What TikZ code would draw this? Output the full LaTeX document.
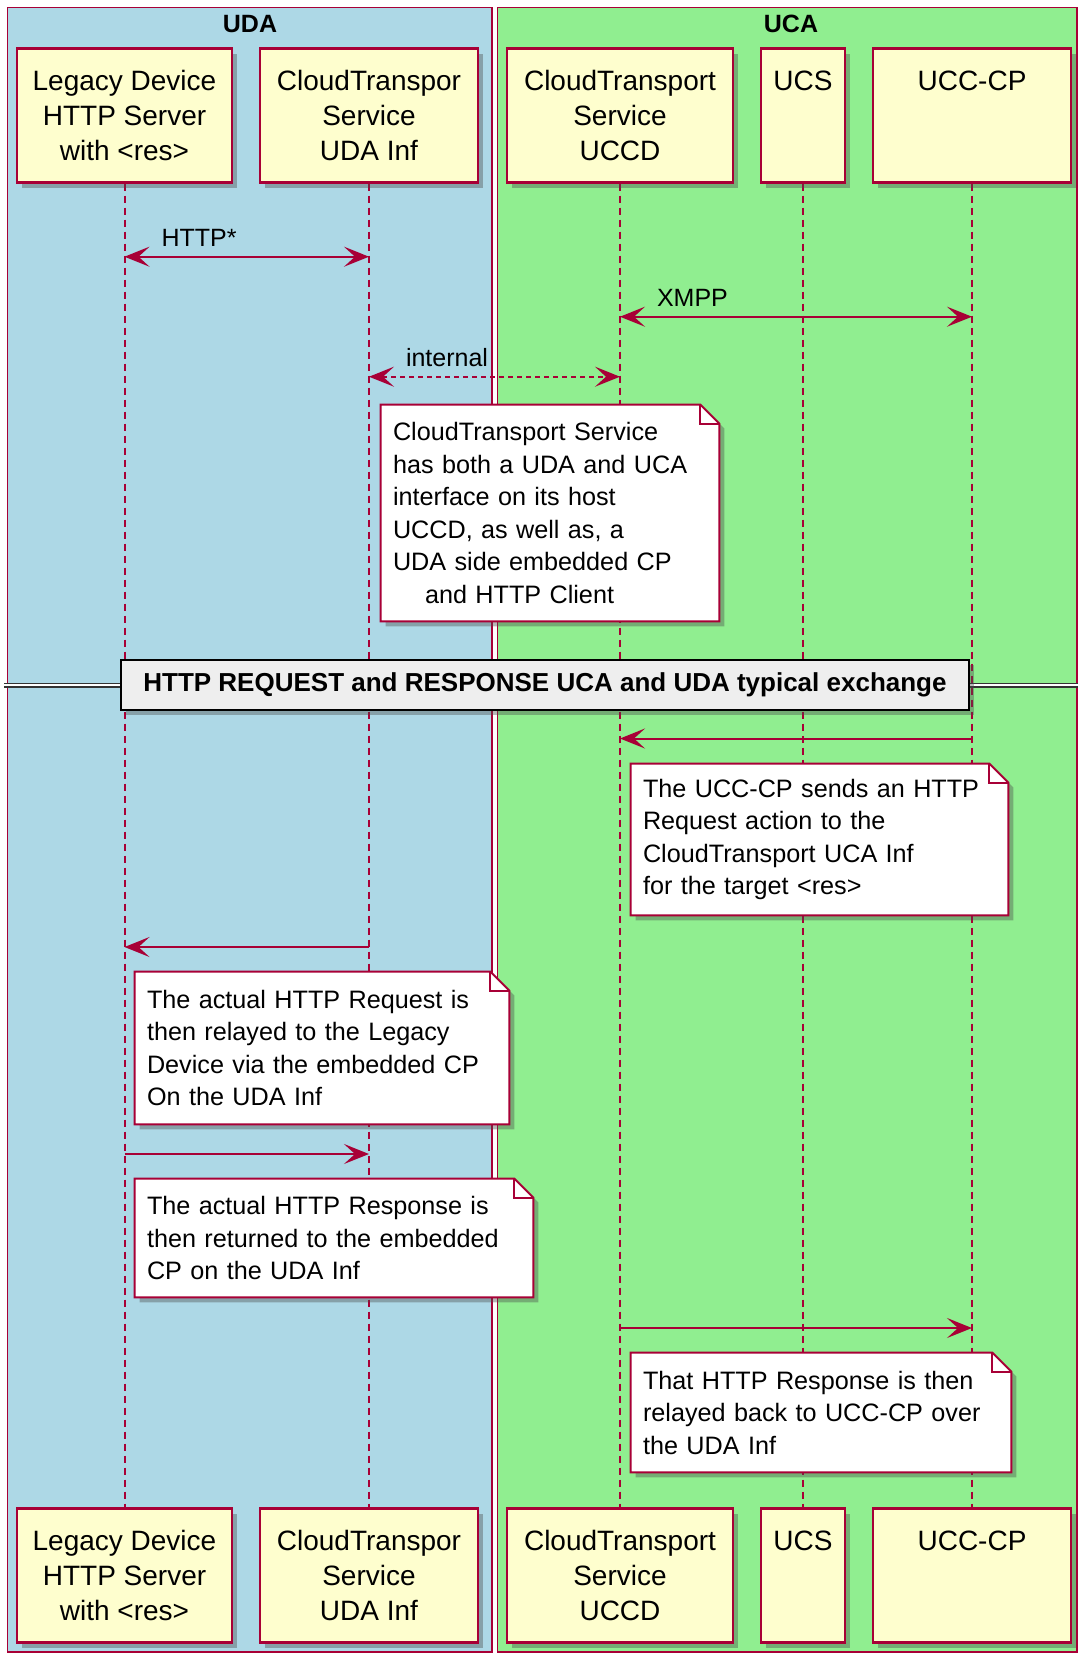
\documentclass[tikz,border=0pt]{standalone}
\usepackage{fontspec}
\setmainfont{Liberation Sans}
\usepackage{tikz}
\usetikzlibrary{arrows.meta}
\usetikzlibrary{shadows}
\definecolor{umlred}{HTML}{A80036}
\definecolor{umlyellow}{HTML}{FEFECE}
\definecolor{udablue}{HTML}{ADD8E6}
\definecolor{ucagreen}{HTML}{90EE90}
\definecolor{divgray}{HTML}{EEEEEE}
\pgfdeclarelayer{bg}
\pgfdeclarelayer{notes}
\pgfsetlayers{bg,notes,main}
\tikzstyle{umlshadow}=[drop shadow={shadow xshift=2.5pt, shadow yshift=-2.5pt, opacity=0.4, fill=black!70}]
\tikzstyle{actor_box}=[draw=umlred, fill=umlyellow, line width=1.2pt, align=center, minimum height=67pt, inner sep=0pt, font=\fontsize{14}{17.5}\selectfont, umlshadow]
\tikzstyle{life_line}=[draw=umlred, line width=1pt, dash pattern=on 3.5pt off 2.5pt]
\tikzstyle{msg}=[draw=umlred, line width=1pt, -{Stealth[length=12.5pt, width=10pt, inset=5.5pt]}]
\tikzstyle{msg_both}=[draw=umlred, line width=1pt, {Stealth[length=12.5pt, width=10pt, inset=5.5pt]}-{Stealth[length=12.5pt, width=10pt, inset=5.5pt]}]
\tikzstyle{msg_label}=[anchor=base west, inner sep=0pt, xshift=18pt, yshift=5.25pt, font=\fontsize{12.5}{15}\selectfont]
\tikzstyle{note_text}=[inner xsep=6pt, inner ysep=0pt, align=left, font=\fontsize{12.6}{16.25}\selectfont]
\tikzstyle{note_shape}=[draw=umlred, fill=white, line width=1pt, umlshadow]
\tikzstyle{group_box}=[draw=umlred, line width=0.6pt]
\tikzstyle{group_title}=[font=\fontsize{12.5}{15}\selectfont\bfseries]
\tikzstyle{divider}=[draw=black, line width=1pt, fill=divgray, minimum width=424pt, minimum height=25pt, font=\fontsize{13}{15}\selectfont\bfseries, umlshadow]
\tikzstyle{div_line}=[draw=black!80, line width=0.8pt, double=white, double distance=0.9pt]
\newcommand{\notefold}[1]{%
  \begin{pgfonlayer}{notes}
    \path[note_shape] (#1.south west) -- (#1.north west) -- ([xshift=-9.5pt]#1.north east) -- ([yshift=-9.5pt]#1.north east) -- (#1.south east) -- cycle;
    \draw[draw=umlred, line width=1pt] ([xshift=-9.5pt]#1.north east) |- ([yshift=-9.5pt]#1.north east);
  \end{pgfonlayer}}

\begin{document}
\begin{tikzpicture}[x=0.5pt, y=-0.5pt]
          \useasboundingbox (0,0) rectangle (1078,1655);
          \begin{pgfonlayer}{bg}
          \draw[group_box, fill=udablue] (7.5,7.5) rectangle (492,1652);
          \draw[group_box, fill=ucagreen] (497.5,7.5) rectangle (1077,1652);
          \end{pgfonlayer}
          \node[group_title] (udaT) at (250,24) {UDA};
          \node[group_title] (ucaT) at (791,24) {UCA};
          \node[actor_box, minimum width=107.5pt] (ldT) at (124.5,115.5) {Legacy Device\\HTTP Server\\with <res>};
          \node[actor_box, minimum width=109pt] (cuT) at (369,115.5) {CloudTranspor\\Service\\UDA Inf};
          \node[actor_box, minimum width=113pt] (ccT) at (620,115.5) {CloudTransport\\Service\\UCCD};
          \node[actor_box, minimum width=42.25pt] (usT) at (803,115.5) {UCS\\~\\~};
          \node[actor_box, minimum width=99.25pt] (upT) at (972,115.5) {UCC-CP\\~\\~};
          \node[actor_box, minimum width=107.5pt] (ldB) at (124.5,1575.5) {Legacy Device\\HTTP Server\\with <res>};
          \node[actor_box, minimum width=109pt] (cuB) at (369,1575.5) {CloudTranspor\\Service\\UDA Inf};
          \node[actor_box, minimum width=113pt] (ccB) at (620,1575.5) {CloudTransport\\Service\\UCCD};
          \node[actor_box, minimum width=42.25pt] (usB) at (803,1575.5) {UCS\\~\\~};
          \node[actor_box, minimum width=99.25pt] (upB) at (972,1575.5) {UCC-CP\\~\\~};
          \begin{pgfonlayer}{bg}
          \draw[life_line](ldT) -- (ldB);
          \draw[life_line](cuT) -- (cuB);
          \draw[life_line](ccT) -- (ccB);
          \draw[life_line](usT) -- (usB);
          \draw[life_line](upT) -- (upB);
          \end{pgfonlayer}
          \coordinate (m1) at (0,256.7);
          \coordinate (m2) at (0,316.7);
          \coordinate (m3) at (0,376.7);
          \coordinate (m4) at (0,738.5);
          \coordinate (m5) at (0,947);
          \coordinate (m6) at (0,1154);
          \coordinate (m7) at (0,1328);
          \draw[msg_both](ldT |- m1) -- (cuT |- m1) node[msg_label, pos=0] {HTTP*};
          \draw[msg_both](ccT |- m2) -- (upT |- m2) node[msg_label, pos=0] {XMPP};
          \draw[msg_both, dash pattern=on 2.5pt off 2pt](cuT |- m3) -- (ccT |- m3) node[msg_label, pos=0] {internal};
          \draw[msg](upT |- m4) -- (ccT |- m4);
          \draw[msg](cuT |- m5) -- (ldT |- m5);
          \draw[msg](ldT |- m6) -- (cuT |- m6);
          \draw[msg](ccT |- m7) -- (upT |- m7);
          \coordinate (divL) at (4,685);
          \coordinate (divR) at (1078,685);
          \draw[div_line](divL) -- (divR);
          \node[divider] (div) at (545,685) {HTTP REQUEST and RESPONSE UCA and UDA typical exchange};
          \node[note_text, text width=157pt, minimum height=108pt] (note1) at (550,513) {CloudTransport Service\\has both a UDA and UCA\\interface on its host\\UCCD, as well as, a\\UDA side embedded CP\\\hspace*{16pt}and HTTP Client};
          \notefold{note1}
          \node[note_text, text width=176.5pt, minimum height=75.5pt] (note2) at (819.5,839.5) {The UCC-CP sends an HTTP\\Request action to the\\CloudTransport UCA Inf\\for the target <res>};
          \notefold{note2}
          \node[note_text, text width=175pt, minimum height=76pt] (note3) at (322,1048) {The actual HTTP Request is\\then relayed to the Legacy\\Device via the embedded CP\\On the UDA Inf};
          \notefold{note3}
          \node[note_text, text width=187pt, minimum height=59pt] (note4) at (334,1238) {The actual HTTP Response is\\then returned to the embedded\\CP on the UDA Inf};
          \notefold{note4}
          \node[note_text, text width=178pt, minimum height=59.5pt] (note5) at (821,1412.5) {That HTTP Response is then\\relayed back to UCC-CP over\\the UDA Inf};
          \notefold{note5}
        \end{tikzpicture}
\end{document}
